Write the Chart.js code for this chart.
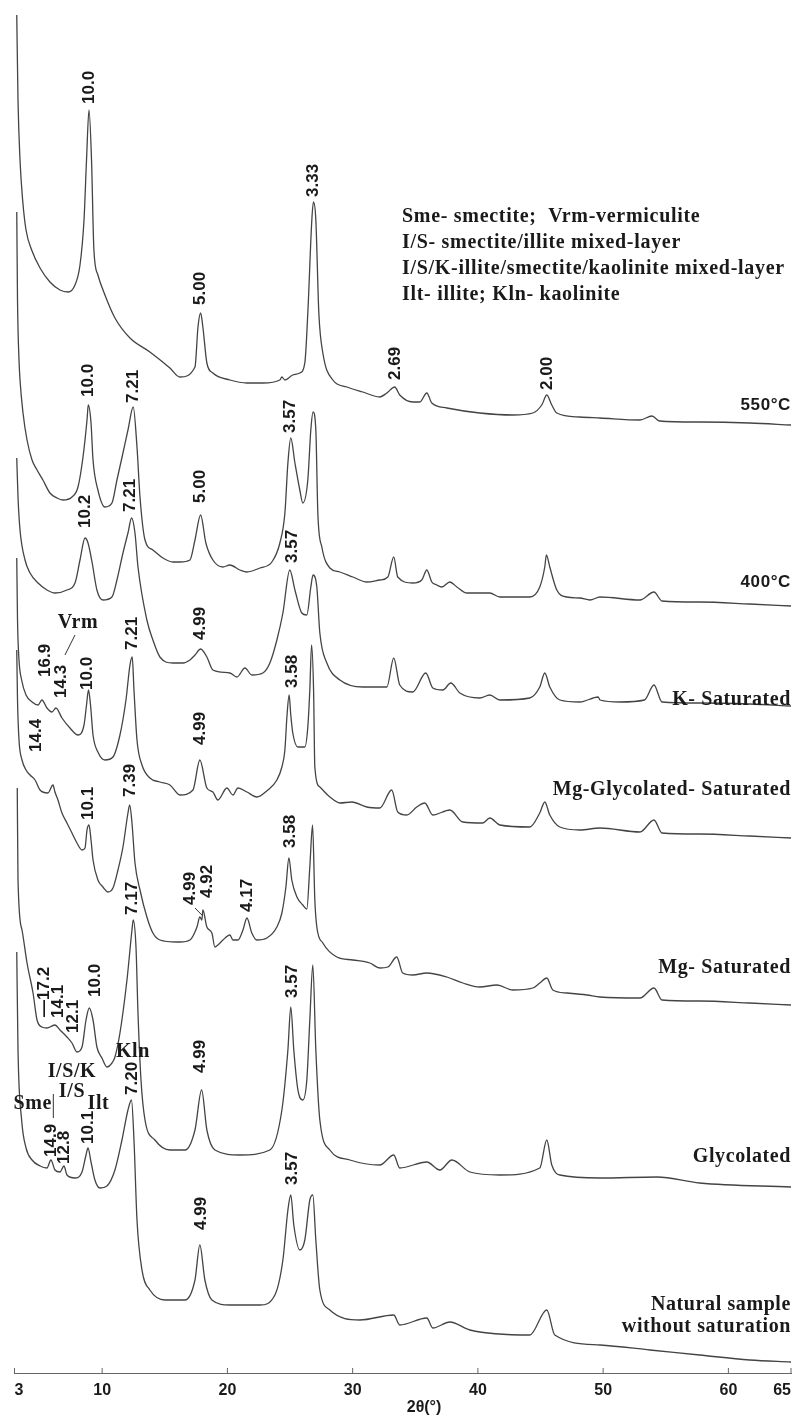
<!DOCTYPE html>
<html>
<head>
<meta charset="utf-8">
<script src="https://cdn.jsdelivr.net/npm/chart.js@4"></script>
<style>
  html, body { margin: 0; padding: 0; background: #fff; }
  canvas { display: block; }
</style>
</head>
<body>
<canvas id="xrd" width="798" height="1416"></canvas>
<script>
// tick labels on the 2θ axis
const xTicks = [3, 10, 20, 30, 40, 50, 60, 65];

// Patterns as [2θ, level] pairs.
// The patterns are stacked, so level is measured down from the top of the plot.
const t550 = [[3.18,15],[3.28,100],[3.44,160],[3.65,200],[3.92,230],[4.37,250],[5.04,268],[5.83,282],[6.63,290],[7.27,292],[7.83,285],[8.23,265],[8.55,220],[8.75,160],[8.95,110],[9.15,160],[9.34,250],[9.66,275],[10.22,295],[11.02,318],[12.22,338],[13.81,352],[15.41,368],[16.21,377],[17.41,367],[17.65,327],[17.86,313],[18.04,327],[18.36,363],[18.84,373],[20.2,380],[21.56,383],[22.83,383],[24.19,380],[24.35,377],[24.59,380],[25.22,375],[25.78,373],[26.18,363],[26.42,313],[26.74,220],[26.87,202],[27.06,220],[27.3,313],[27.62,353],[28.42,380],[29.54,387],[30.81,392],[32.17,397],[32.73,393],[33.36,387],[33.76,395],[34.8,402],[35.36,402],[35.92,393],[36.32,403],[37.52,408],[40.15,413],[42.78,415],[44.38,413],[45.1,405],[45.5,395],[45.9,405],[46.3,413],[48.14,417],[49.75,418],[52.94,420],[53.9,416],[54.5,421],[57.7,422],[61.7,423],[65,425]];
const t400 = [[3.18,212],[3.24,300],[3.36,360],[3.44,380],[3.68,413],[4.0,440],[4.4,460],[4.8,470],[5.27,480],[5.83,493],[6.39,498],[6.87,500],[7.59,497],[8.07,487],[8.47,457],[8.79,420],[8.89,405],[9.11,423],[9.27,460],[9.66,490],[10.22,507],[10.78,503],[11.18,480],[11.66,453],[12.06,430],[12.48,407],[12.78,447],[13.02,497],[13.42,540],[14.05,550],[14.85,558],[15.65,562],[16.21,562],[17.01,560],[17.41,540],[17.86,515],[18.28,543],[18.84,560],[19.64,567],[20.2,565],[21.0,570],[21.56,572],[22.59,568],[23.55,562],[24.19,543],[24.59,513],[24.83,463],[25.06,438],[25.39,463],[25.78,490],[26.02,503],[26.42,480],[26.66,430],[26.84,412],[27.06,430],[27.22,513],[27.54,547],[28.18,568],[28.98,572],[30.02,577],[31.13,582],[32.17,580],[32.81,577],[33.28,557],[33.6,577],[34.8,583],[35.52,580],[35.92,570],[36.32,582],[36.72,585],[37.12,587],[37.76,582],[38.32,587],[39.12,593],[40.95,593],[41.75,597],[44.14,597],[44.94,587],[45.34,567],[45.47,555],[45.74,567],[46.3,590],[47.1,597],[48.14,598],[48.95,600],[49.75,597],[52.94,600],[54.06,592],[54.7,601],[57.7,602],[61.7,604],[65,606]];
const tK = [[3.18,458],[3.28,497],[3.44,530],[3.84,560],[4.24,573],[4.88,583],[5.59,590],[6.23,593],[7.19,590],[7.83,583],[8.23,560],[8.63,538],[8.87,543],[9.19,562],[9.58,590],[10.06,600],[10.78,597],[11.18,580],[11.66,553],[12.06,533],[12.35,518],[12.62,533],[12.86,567],[13.57,620],[14.05,640],[14.61,657],[15.65,663],[16.45,663],[17.01,660],[17.41,655],[17.86,649],[18.36,657],[18.84,670],[20.2,673],[20.76,677],[21.4,668],[21.95,675],[22.83,673],[23.39,663],[23.95,640],[24.43,613],[24.98,570],[25.39,590],[25.94,613],[26.34,615],[26.66,587],[26.84,575],[27.14,587],[27.38,633],[27.94,663],[28.98,680],[30.81,687],[32.73,687],[33.28,658],[33.76,685],[34.8,692],[35.84,673],[36.4,688],[37.2,690],[37.84,683],[38.56,693],[40.15,698],[40.95,695],[41.75,700],[44.14,698],[44.94,687],[45.34,673],[45.74,687],[46.54,700],[48.14,702],[49.6,697],[49.75,700],[51.34,702],[53.3,700],[54.06,685],[54.7,702],[57.7,703],[61.7,704],[65,706]];
const tMgGly = [[3.18,558],[3.24,620],[3.36,660],[3.57,680],[3.92,695],[4.4,702],[4.88,705],[5.19,700],[5.59,708],[5.99,712],[6.31,708],[6.79,718],[7.43,728],[8.07,735],[8.55,725],[8.75,705],[8.91,690],[9.07,705],[9.27,735],[9.66,752],[10.22,760],[10.86,757],[11.42,735],[11.9,700],[12.22,665],[12.4,657],[12.54,690],[12.78,740],[13.18,765],[13.81,778],[14.61,782],[15.41,785],[16.21,795],[17.25,790],[17.8,760],[18.36,788],[18.84,792],[19.24,800],[19.96,788],[20.44,795],[20.84,788],[21.56,792],[22.35,797],[23.23,790],[23.95,780],[24.35,767],[24.59,750],[24.75,717],[24.93,695],[25.06,715],[25.22,733],[25.63,747],[26.18,747],[26.42,727],[26.58,690],[26.72,645],[26.88,690],[26.98,767],[27.38,787],[28.18,797],[28.98,803],[29.94,802],[31.13,807],[32.17,808],[33.12,790],[33.6,812],[34.32,815],[35.12,807],[35.76,803],[36.4,815],[37.76,810],[38.8,822],[40.39,823],[40.95,818],[41.75,825],[44.14,827],[44.94,813],[45.34,802],[45.74,815],[46.54,827],[48.14,830],[49.75,828],[52.94,832],[54.06,820],[54.7,833],[57.7,834],[61.7,836],[65,838]];
const tMg = [[3.18,650],[3.24,700],[3.36,740],[3.6,760],[3.92,770],[4.24,775],[4.64,780],[5.04,790],[5.67,793],[6.07,785],[6.23,792],[6.47,800],[6.79,813],[7.19,823],[7.59,833],[7.99,843],[8.39,850],[8.63,848],[8.79,830],[8.95,825],[9.11,840],[9.27,860],[9.66,880],[10.06,887],[10.46,892],[10.86,888],[11.26,870],[11.66,847],[12.06,813],[12.2,805],[12.38,823],[12.62,863],[13.02,890],[13.57,917],[14.05,933],[14.61,940],[15.97,942],[16.21,942],[17.01,940],[17.57,927],[17.8,917],[17.96,920],[18.04,910],[18.36,927],[18.76,933],[19.0,947],[19.24,945],[19.64,940],[20.2,935],[20.44,940],[20.84,940],[21.24,930],[21.56,918],[21.95,933],[22.35,940],[23.15,938],[23.95,927],[24.35,913],[24.67,887],[24.91,858],[25.14,880],[25.55,897],[26.02,905],[26.34,909],[26.58,867],[26.8,825],[26.98,900],[27.14,927],[27.62,943],[28.74,957],[30.02,960],[31.37,963],[32.17,968],[32.81,967],[33.52,957],[34.0,973],[34.8,975],[35.92,973],[37.52,977],[38.8,983],[40.15,987],[41.51,985],[42.78,990],[44.38,988],[44.94,983],[45.5,978],[45.98,990],[47.1,993],[48.7,995],[49.75,997],[52.94,998],[54.06,988],[54.7,1000],[57.7,1001],[61.7,1003],[65,1005]];
const tGly = [[3.22,788],[3.28,880],[3.6,930],[4.0,963],[4.48,993],[4.8,1020],[5.19,1027],[5.59,1028],[5.83,1027],[6.23,1025],[6.63,1030],[7.19,1037],[7.59,1043],[7.99,1052],[8.39,1047],[8.71,1020],[8.97,1008],[9.27,1020],[9.58,1047],[9.98,1058],[10.38,1067],[10.78,1063],[11.02,1057],[11.42,1033],[11.98,980],[12.38,930],[12.48,920],[12.7,947],[12.86,1013],[13.1,1080],[13.42,1120],[14.21,1140],[15.41,1150],[16.61,1150],[17.41,1130],[17.94,1090],[18.36,1130],[19.0,1150],[21.0,1155],[23.39,1150],[24.35,1110],[24.83,1050],[25.06,1007],[25.3,1050],[25.63,1090],[26.02,1100],[26.34,1080],[26.58,1020],[26.82,965],[27.06,1050],[27.38,1120],[28.18,1150],[29.78,1160],[32.17,1165],[33.28,1155],[33.76,1168],[35.92,1162],[36.96,1170],[37.92,1160],[39.36,1172],[41.75,1175],[44.94,1168],[45.5,1140],[45.9,1165],[46.54,1175],[49.75,1178],[54.3,1177],[57.7,1183],[65,1187]];
const tNat = [[3.18,952],[3.28,1050],[3.57,1120],[3.92,1148],[4.4,1160],[5.04,1166],[5.59,1168],[5.91,1160],[6.23,1170],[6.63,1172],[6.95,1166],[7.19,1175],[7.83,1178],[8.39,1172],[8.71,1155],[8.87,1148],[9.11,1162],[9.42,1180],[9.82,1188],[10.38,1186],[11.02,1170],[11.58,1140],[12.06,1110],[12.34,1100],[12.54,1140],[12.78,1220],[13.18,1270],[13.81,1290],[15.01,1300],[16.61,1300],[17.41,1280],[17.8,1245],[18.2,1280],[18.76,1300],[20.2,1305],[22.59,1305],[23.79,1295],[24.43,1260],[24.83,1210],[25.06,1195],[25.3,1225],[25.78,1250],[26.18,1240],[26.58,1200],[26.82,1195],[27.06,1240],[27.38,1290],[28.18,1310],[30.57,1320],[33.28,1315],[33.76,1325],[35.92,1318],[36.4,1328],[37.76,1322],[39.36,1330],[44.14,1335],[45.5,1310],[46.14,1335],[49.75,1345],[53.74,1350],[57.7,1355],[61.7,1360],[65,1362]];

const patterns = [t550, t400, tK, tMgGly, tMg, tGly, tNat];

// d-spacing labels (Å), written upward from [2θ, level]
const peakLabels = [
  [8.99,104,'10.0'],[17.86,305,'5.00'],[26.85,197,'3.33'],[33.37,380,'2.69'],[45.58,390,'2.00'],
  [8.91,397,'10.0'],[12.46,403,'7.21'],[17.86,503,'5.00'],[24.99,433,'3.57'],
  [8.63,528,'10.2'],[12.26,512,'7.21'],[17.86,640,'4.99'],[25.15,563,'3.57'],
  [5.43,677,'16.9'],[6.71,698,'14.3'],[8.79,690,'10.0'],[12.38,650,'7.21'],[17.86,745,'4.99'],[25.15,688,'3.58'],
  [4.75,752,'14.4'],[8.87,820,'10.1'],[12.22,797,'7.39'],[17.01,905,'4.99'],[18.36,898,'4.92'],[21.56,912,'4.17'],[24.99,848,'3.58'],
  [5.35,1017,'\u201417.2'],[6.47,1018,'14.1'],[7.67,1033,'12.1'],[9.42,997,'10.0'],[12.38,915,'7.17'],[17.8,1073,'4.99'],[25.15,998,'3.57'],
  [5.91,1157,'14.9'],[6.95,1164,'12.8'],[8.87,1144,'10.1'],[12.38,1095,'7.20'],[17.88,1230,'4.99'],[25.15,1185,'3.57']
];

// mineral names near the low-angle peaks: [2θ, level, text]
const mineralLabels = [
  [8.07,623,'Vrm'],[12.46,1052,'Kln'],[7.59,1072,'I/S/K'],[7.59,1092,'I/S'],[4.45,1104,'Sme'],[9.7,1104,'Ilt']
];
// thin leader lines: [2θ1, level1, 2θ2, level2]
const leaders = [
  [7.83,635,7.03,655],[17.41,908,17.96,915],[6.1,1094,6.1,1118]
];

// treatment names at the right end of each pattern
const sampleNames = [
  [405,'550\u00b0C','sans'],[582,'400\u00b0C','sans'],[700,'K- Saturated','serif'],
  [790,'Mg-Glycolated- Saturated','serif'],[968,'Mg- Saturated','serif'],[1157,'Glycolated','serif'],
  [1305,'Natural sample','serif'],[1327,'without saturation','serif']
];

const legendLines = [
  'Sme- smectite;  Vrm-vermiculite',
  'I/S- smectite/illite mixed-layer',
  'I/S/K-illite/smectite/kaolinite mixed-layer',
  'Ilt- illite; Kln- kaolinite'
];

const SANS = 'bold 17px "Liberation Sans", Arial, sans-serif';
const SERIF = 'bold 20px "Liberation Serif", "Times New Roman", serif';

// draws the texts, leader lines and inward ticks
const notes = {
  id: 'notes',
  afterDraw(chart) {
    const ctx = chart.ctx;
    const xs = chart.scales.x, ys = chart.scales.y;
    const px = v => xs.getPixelForValue(v);
    const py = v => ys.getPixelForValue(v);
    ctx.save();
    ctx.fillStyle = '#1a1a1a';

    // inward tick marks
    ctx.strokeStyle = '#666';
    ctx.lineWidth = 1;
    xTicks.forEach(t => {
      ctx.beginPath();
      ctx.moveTo(px(t), xs.top);
      ctx.lineTo(px(t), xs.top - 5);
      ctx.stroke();
    });

    // d-spacings, rotated
    ctx.font = SANS;
    ctx.textAlign = 'left';
    ctx.textBaseline = 'middle';
    peakLabels.forEach(([t, l, s]) => {
      ctx.save();
      ctx.translate(px(t), py(l));
      ctx.rotate(-Math.PI / 2);
      ctx.fillText(s, 0, 0);
      ctx.restore();
    });

    ctx.font = SERIF;
    ctx.letterSpacing = '0.6px';
    ctx.textAlign = 'center';
    mineralLabels.forEach(([t, l, s]) => ctx.fillText(s, px(t), py(l)));

    ctx.strokeStyle = '#333';
    leaders.forEach(([a, b, c, d]) => {
      ctx.beginPath();
      ctx.moveTo(px(a), py(b));
      ctx.lineTo(px(c), py(d));
      ctx.stroke();
    });

    ctx.textAlign = 'right';
    sampleNames.forEach(([l, s, f]) => {
      ctx.font = f === 'sans' ? 'bold 17px "Liberation Sans", Arial, sans-serif' : SERIF;
      ctx.fillText(s, xs.right, py(l));
    });

    ctx.font = SERIF;
    ctx.letterSpacing = '0.7px';
    ctx.textAlign = 'left';
    legendLines.forEach((s, i) => ctx.fillText(s, 402, py(217 + i * 26)));
    ctx.letterSpacing = '0px';

    // axis title
    ctx.font = 'bold 16px "Liberation Sans", Arial, sans-serif';
    ctx.textAlign = 'center';
    ctx.fillText('2\u03b8(\u00b0)', px(35.7), xs.bottom - 8);
    ctx.restore();
  }
};

new Chart(document.getElementById('xrd'), {
  type: 'line',
  data: {
    datasets: patterns.map(p => ({
      data: p.map(([x, y]) => ({ x, y })),
      borderColor: '#444',
      borderWidth: 1.3,
      pointRadius: 0,
      cubicInterpolationMode: 'monotone',
      fill: false
    }))
  },
  options: {
    responsive: false,
    animation: false,
    devicePixelRatio: 1,
    layout: { padding: { left: 14.5, right: 7, top: 0, bottom: 0 } },
    plugins: { legend: { display: false }, tooltip: { enabled: false } },
    scales: {
      x: {
        type: 'linear',
        min: 3,
        max: 65,
        afterBuildTicks: s => { s.ticks = xTicks.map(v => ({ value: v })); },
        afterFit: s => { s.height = 43; s.paddingLeft = 0; s.paddingRight = 0; },
        grid: { display: false, drawTicks: false },
        border: { display: true, color: '#666', width: 1 },
        ticks: {
          padding: 8,
          align: 'inner',
          color: '#1a1a1a',
          font: { family: '"Liberation Sans", Arial, sans-serif', size: 16, weight: 'bold' }
        }
      },
      y: {
        display: false,
        reverse: true,
        min: 0,
        max: 1373
      }
    }
  },
  plugins: [notes]
});
</script>
</body>
</html>
